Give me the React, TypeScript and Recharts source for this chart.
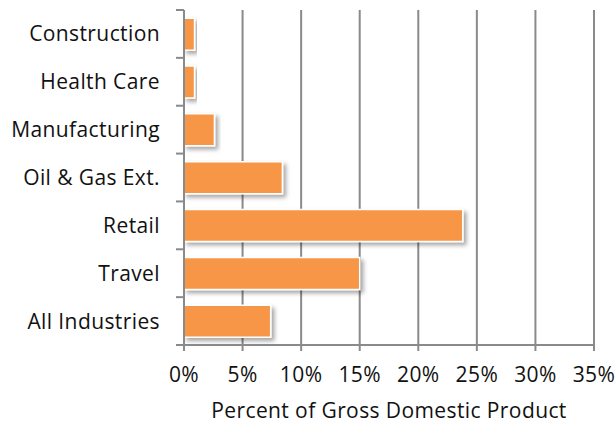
import { BarChart, Bar, XAxis, YAxis, CartesianGrid } from 'recharts'

// Share of GDP by industry
const industries = [
  'Construction',
  'Health Care',
  'Manufacturing',
  'Oil & Gas Ext.',
  'Retail',
  'Travel',
  'All Industries',
]
const gdpShare = [0.9, 0.9, 2.6, 8.4, 23.8, 15.0, 7.4]
const xTicks = [0, 5, 10, 15, 20, 25, 30, 35]
const xTitle = 'Percent of Gross Domestic Product'

const data = industries.map((name, i) => ({ name, value: gdpShare[i] }))

const WIDTH = 616
const HEIGHT = 424
const MARGIN = { top: 10, right: 22, left: 0, bottom: 0 }
const X_AXIS_H = 79
const Y_AXIS_W = 184
const BAND = (HEIGHT - MARGIN.top - MARGIN.bottom - X_AXIS_H) / industries.length

const FONT = '"Open Sans", sans-serif'
const FS = 21
const LS = 0.4
const GRID = '#8a8a8a'
const TEXT = '#111'

const CategoryTick = ({ x, y, payload, index }: any) => {
  const axisX = x + 16 + 8
  return (
    <g>
      <text
        x={x}
        y={y}
        dy="0.355em"
        textAnchor="end"
        fill={TEXT}
        fontSize={FS}
        fontFamily={FONT}
        letterSpacing={LS}
      >
        {payload.value}
      </text>
      {index === 0 && (
        <line x1={axisX - 8} x2={axisX} y1={y - BAND / 2} y2={y - BAND / 2} stroke={GRID} strokeWidth={2} />
      )}
      <line x1={axisX - 8} x2={axisX} y1={y + BAND / 2} y2={y + BAND / 2} stroke={GRID} strokeWidth={2} />
    </g>
  )
}

export default function App() {
  return (
    <div style={{ position: 'absolute', left: 0, top: 0, width: WIDTH, height: HEIGHT, background: '#fff' }}>
      <BarChart
        width={WIDTH}
        height={HEIGHT}
        data={data}
        layout="vertical"
        margin={MARGIN}
        barCategoryGap="17%"
      >
        <defs>
          <filter id="barShadow" x="-10%" y="-20%" width="130%" height="160%">
            <feDropShadow dx={3} dy={3} stdDeviation={2} floodColor="#000" floodOpacity={0.35} />
          </filter>
        </defs>
        <CartesianGrid horizontal={false} vertical={true} stroke={GRID} strokeWidth={2} />
        <XAxis
          type="number"
          domain={[0, 35]}
          ticks={xTicks}
          interval={0}
          height={X_AXIS_H}
          tickFormatter={(v: number) => `${v}%`}
          tick={{ fill: TEXT, fontSize: FS, fontFamily: FONT, letterSpacing: LS }}
          axisLine={{ stroke: GRID, strokeWidth: 2 }}
          tickLine={{ stroke: GRID, strokeWidth: 2 }}
          tickSize={6}
          tickMargin={16}
          label={{
            value: xTitle,
            position: 'insideBottom',
            offset: 6,
            fill: TEXT,
            fontSize: FS,
            fontFamily: FONT,
            letterSpacing: LS,
          }}
        />
        <XAxis
          xAxisId="top"
          orientation="top"
          type="number"
          domain={[0, 35]}
          height={0}
          tick={false}
          tickLine={false}
          axisLine={{ stroke: GRID, strokeWidth: 2 }}
        />
        <YAxis
          type="category"
          dataKey="name"
          width={Y_AXIS_W}
          interval={0}
          tick={<CategoryTick />}
          tickLine={false}
          tickSize={8}
          tickMargin={16}
          axisLine={{ stroke: GRID, strokeWidth: 2 }}
        />
        <Bar
          dataKey="value"
          fill="#F79646"
          stroke="#fff"
          strokeWidth={1.5}
          filter="url(#barShadow)"
          isAnimationActive={false}
        />
      </BarChart>
    </div>
  )
}
